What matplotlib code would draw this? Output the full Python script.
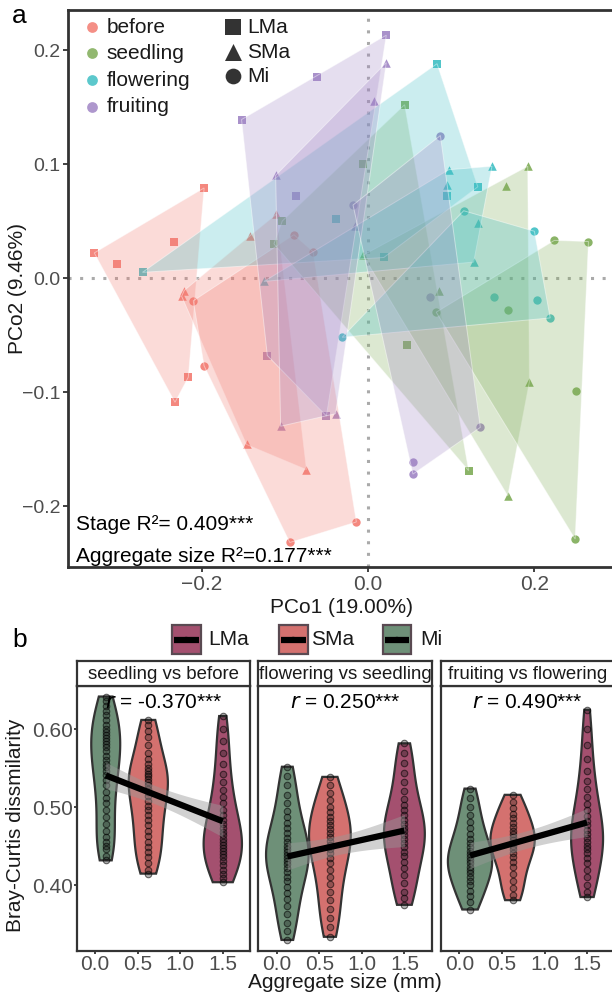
import numpy as np
import matplotlib
matplotlib.use('Agg')
import matplotlib.pyplot as plt
from matplotlib.patches import Polygon, Rectangle

plt.rcParams['font.family'] = ['Liberation Sans', 'DejaVu Sans']

# ---------------- Panel a data (PCoA) ----------------
stage_names = ['before', 'seedling', 'flowering', 'fruiting']
size_names = ['LMa', 'SMa', 'Mi']
stage_colors = ['#F37B71', '#7FAC57', '#3FBFC4', '#A085C5']

pt_stage = (['before'] * 18 + ['seedling'] * 18 + ['flowering'] * 18 + ['fruiting'] * 18)
pt_size = (['LMa'] * 6 + ['SMa'] * 6 + ['Mi'] * 6) * 4
pt_pco1 = [
    # before
    -0.329, -0.302, -0.233, -0.197, -0.216, -0.232,
    -0.110, -0.142, -0.221, -0.224, -0.146, -0.074,
    -0.089, -0.066, -0.210, -0.197, -0.094, -0.014,
    # seedling
    -0.006, 0.044, -0.103, -0.113, 0.047, 0.121,
    0.192, 0.166, -0.006, 0.085, 0.194, 0.168,
    0.224, 0.265, 0.082, 0.168, 0.250, 0.249,
    # flowering
    0.083, 0.132, 0.095, -0.271, -0.038, 0.019,
    0.097, 0.149, 0.095, 0.132, 0.127, -0.125,
    0.115, 0.200, 0.151, 0.203, 0.219, -0.031,
    # fruiting
    -0.152, -0.061, 0.022, -0.086, -0.121, -0.050,
    0.022, 0.007, -0.111, -0.016, -0.105, -0.039,
    0.087, -0.018, 0.074, 0.135, 0.054, 0.054,
]
pt_pco2 = [
    # before
    0.022, 0.012, 0.032, 0.079, -0.087, -0.109,
    0.056, 0.037, -0.011, -0.016, -0.146, -0.168,
    0.038, 0.023, -0.020, -0.077, -0.232, -0.214,
    # seedling
    0.100, 0.152, 0.050, 0.030, -0.059, -0.169,
    0.098, 0.081, 0.020, -0.011, -0.091, -0.191,
    0.033, 0.032, -0.030, -0.028, -0.099, -0.229,
    # flowering
    0.188, 0.080, 0.072, 0.005, 0.052, 0.018,
    0.095, 0.098, 0.082, 0.048, 0.014, -0.003,
    0.059, 0.041, -0.017, -0.019, -0.035, -0.052,
    # fruiting
    0.139, 0.176, 0.213, 0.072, -0.068, -0.121,
    0.189, 0.155, 0.090, 0.046, -0.130, -0.119,
    0.125, 0.064, -0.017, -0.131, -0.161, -0.172,
]
pco1_label = 'PCo1 (19.00%)'
pco2_label = 'PCo2 (9.46%)'
stat_lines = ['Stage R\u00b2= 0.409***', 'Aggregate size R\u00b2=0.177***']

# ---------------- Panel b data (Bray-Curtis) ----------------
facet_titles = ['seedling vs before', 'flowering vs seedling', 'fruiting vs flowering']
r_labels = ['-0.370***', '0.250***', '0.490***']
size_x = [0.125, 0.625, 1.5]          # Mi, SMa, LMa aggregate size (mm)
violin_sizes = ['Mi', 'SMa', 'LMa']

f1_Mi = [0.642, 0.636, 0.630, 0.624, 0.618, 0.612, 0.606, 0.601, 0.597, 0.593, 0.589, 0.585,
         0.581, 0.577, 0.572, 0.566, 0.561, 0.556, 0.552, 0.547, 0.541, 0.535, 0.528, 0.520,
         0.512, 0.505, 0.497, 0.488, 0.478, 0.470, 0.462, 0.455, 0.450, 0.446, 0.438, 0.432]
f1_SMa = [0.612, 0.605, 0.598, 0.590, 0.580, 0.570, 0.562, 0.556, 0.551, 0.547, 0.543, 0.540,
          0.536, 0.532, 0.528, 0.524, 0.519, 0.514, 0.508, 0.502, 0.496, 0.490, 0.484, 0.477,
          0.470, 0.463, 0.456, 0.449, 0.443, 0.436, 0.428, 0.420, 0.415]
f1_LMa = [0.617, 0.600, 0.585, 0.570, 0.556, 0.543, 0.532, 0.522, 0.513, 0.505, 0.497, 0.490,
          0.484, 0.478, 0.473, 0.468, 0.464, 0.460, 0.456, 0.452, 0.448, 0.444, 0.440, 0.436,
          0.431, 0.426, 0.420, 0.414, 0.409, 0.404]
f2_Mi = [0.552, 0.540, 0.528, 0.516, 0.505, 0.495, 0.487, 0.480, 0.473, 0.467, 0.461, 0.456,
         0.451, 0.447, 0.443, 0.439, 0.435, 0.431, 0.427, 0.422, 0.417, 0.411, 0.405, 0.398,
         0.390, 0.382, 0.373, 0.363, 0.352, 0.342, 0.330]
f2_SMa = [0.539, 0.528, 0.518, 0.509, 0.501, 0.494, 0.488, 0.482, 0.477, 0.472, 0.467, 0.462,
          0.457, 0.452, 0.447, 0.441, 0.435, 0.428, 0.420, 0.411, 0.402, 0.392, 0.381, 0.370,
          0.358, 0.346, 0.334]
f2_LMa = [0.582, 0.570, 0.557, 0.544, 0.532, 0.521, 0.511, 0.503, 0.496, 0.490, 0.484, 0.479,
          0.474, 0.469, 0.464, 0.459, 0.454, 0.449, 0.443, 0.437, 0.430, 0.422, 0.413, 0.403,
          0.392, 0.384, 0.375]
f3_Mi = [0.524, 0.512, 0.500, 0.490, 0.481, 0.473, 0.466, 0.460, 0.454, 0.449, 0.444, 0.440,
         0.436, 0.432, 0.428, 0.424, 0.420, 0.416, 0.411, 0.406, 0.400, 0.393, 0.386, 0.378, 0.369]
f3_SMa = [0.516, 0.507, 0.499, 0.492, 0.486, 0.480, 0.475, 0.470, 0.466, 0.462, 0.458, 0.454,
          0.450, 0.446, 0.441, 0.436, 0.430, 0.423, 0.415, 0.406, 0.396, 0.388, 0.381]
f3_LMa = [0.625, 0.600, 0.580, 0.562, 0.547, 0.534, 0.523, 0.513, 0.504, 0.496, 0.489, 0.483,
          0.477, 0.471, 0.466, 0.461, 0.456, 0.451, 0.446, 0.441, 0.435, 0.428, 0.420, 0.411,
          0.401, 0.392, 0.385]
facet_data = [[f1_Mi, f1_SMa, f1_LMa], [f2_Mi, f2_SMa, f2_LMa], [f3_Mi, f3_SMa, f3_LMa]]

# ---------------- styles ----------------
violin_colors = {'Mi': '#6E9078', 'SMa': '#D4716F', 'LMa': '#A4506F'}
violin_widths = [[0.34, 0.46, 0.45], [0.50, 0.49, 0.48], [0.52, 0.52, 0.375]]
markers = {'LMa': 's', 'SMa': '^', 'Mi': 'o'}
msizes = {'LMa': 26, 'SMa': 38, 'Mi': 36}
DARK = '#333333'
TICKC = '#4D4D4D'
FS = 15

W, H = 612, 992
fig = plt.figure(figsize=(W / 100, H / 100), dpi=100)


def fx(px):
    return px / W


def fy(py):
    return 1 - py / H


def convex_hull(points):
    pts = sorted(set(points))
    if len(pts) <= 2:
        return pts

    def cross(o, a, b):
        return (a[0] - o[0]) * (b[1] - o[1]) - (a[1] - o[1]) * (b[0] - o[0])
    lower, upper = [], []
    for p in pts:
        while len(lower) >= 2 and cross(lower[-2], lower[-1], p) <= 0:
            lower.pop()
        lower.append(p)
    for p in reversed(pts):
        while len(upper) >= 2 and cross(upper[-2], upper[-1], p) <= 0:
            upper.pop()
        upper.append(p)
    return lower[:-1] + upper[:-1]


# ================= Panel a =================
axa = fig.add_axes([fx(68), fy(567), fx(615) - fx(68), fy(10) - fy(567)])
axa.set_xlim(-0.3606, 0.2969)
axa.set_ylim(-0.2535, 0.2351)
axa.axvline(0, color='#AAAAAA', lw=2.2, ls=(0, (1, 2.8)), dash_capstyle='butt', zorder=0)
axa.axhline(0, color='#AAAAAA', lw=2.2, ls=(0, (1, 2.8)), dash_capstyle='butt', zorder=0)

x_arr = np.array(pt_pco1)
y_arr = np.array(pt_pco2)
st_arr = np.array(pt_stage)
sz_arr = np.array(pt_size)
for si, st in enumerate(stage_names):
    for sz in size_names:
        m = (st_arr == st) & (sz_arr == sz)
        axa.scatter(x_arr[m], y_arr[m], s=msizes[sz], marker=markers[sz],
                    color=stage_colors[si], alpha=0.9, linewidths=0, zorder=2)
for si, st in enumerate(stage_names):
    for sz in size_names:
        m = (st_arr == st) & (sz_arr == sz)
        hull = convex_hull(list(zip(x_arr[m], y_arr[m])))
        axa.add_patch(Polygon(hull, closed=True, facecolor=stage_colors[si], alpha=0.27,
                              edgecolor='none', zorder=3))
        axa.add_patch(Polygon(hull, closed=True, facecolor='none',
                              edgecolor=(1, 1, 1, 0.45), lw=0.7, zorder=3))

axa.set_xticks([-0.2, 0.0, 0.2])
axa.set_yticks([-0.2, -0.1, 0.0, 0.1, 0.2])
axa.set_xticklabels(['\u22120.2', '0.0', '0.2'])
axa.set_yticklabels(['\u22120.2', '\u22120.1', '0.0', '0.1', '0.2'])
axa.tick_params(colors=DARK, labelcolor=TICKC, labelsize=FS, length=3.5, width=1.3, pad=2)
axa.tick_params(axis='y', labelsize=14)
for sp in axa.spines.values():
    sp.set_linewidth(2.0)
    sp.set_color(DARK)
axa.set_xlabel(pco1_label, fontsize=FS, color='#1a1a1a', labelpad=3)
fig.text(fx(18), fy(288), pco2_label, rotation=90, ha='center', va='center', fontsize=FS,
         color='#1a1a1a')

# ================= Panel b =================
facet_left = [76.7, 258.3, 441.0]
facet_w = 173.5
panel_top, panel_bot, strip_top = 686, 950.7, 660.7
for fi in range(3):
    ax = fig.add_axes([fx(facet_left[fi]), fy(panel_bot), fx(facet_w), fy(panel_top) - fy(panel_bot)])
    ax.set_xlim(-0.216, 1.822)
    ax.set_ylim(0.3162, 0.6555)
    allx, ally = [], []
    for vi, sz in enumerate(violin_sizes):
        vals = np.array(facet_data[fi][vi])
        n = len(vals)
        sd = vals.std(ddof=1)
        iqr = np.subtract(*np.percentile(vals, [75, 25]))
        bw = 0.9 * min(sd, iqr / 1.34) * n ** -0.2
        grid = np.linspace(vals.min(), vals.max(), 200)
        dens = np.exp(-0.5 * ((grid[:, None] - vals[None, :]) / bw) ** 2).sum(1)
        hw = violin_widths[fi][vi] / 2 * dens / dens.max()
        pos = size_x[vi]
        xs = np.concatenate([pos - hw, (pos + hw)[::-1]])
        ys = np.concatenate([grid, grid[::-1]])
        ax.fill(xs, ys, facecolor=violin_colors[sz], edgecolor=DARK, lw=1.6, zorder=2)
        ax.scatter(np.full(n, pos), vals, s=22, facecolor=(0.1, 0.1, 0.1, 0.35),
                   edgecolor=(0, 0, 0, 0.55), linewidths=0.8, zorder=3)
        allx += [pos] * n
        ally += list(vals)
    allx = np.array(allx)
    ally = np.array(ally)
    b1, b0 = np.polyfit(allx, ally, 1)
    xx = np.linspace(size_x[0], size_x[2], 50)
    yy = b0 + b1 * xx
    resid = ally - (b0 + b1 * allx)
    s = np.sqrt((resid ** 2).sum() / (len(ally) - 2))
    sxx = ((allx - allx.mean()) ** 2).sum()
    se = s * np.sqrt(1 / len(ally) + (xx - allx.mean()) ** 2 / sxx)
    ax.fill_between(xx, yy - 1.97 * se, yy + 1.97 * se, color='#999999', alpha=0.45,
                    lw=0, zorder=4)
    ax.plot(xx, yy, color='black', lw=4.5, zorder=5, solid_capstyle='butt')
    ax.text(0.5, 0.975, r'$\it{r}$ = ' + r_labels[fi], transform=ax.transAxes, ha='center',
            va='top', fontsize=FS, color='black', zorder=6)
    ax.set_xticks([0.0, 0.5, 1.0, 1.5])
    ax.set_xticklabels(['0.0', '0.5', '1.0', '1.5'])
    ax.set_yticks([0.4, 0.5, 0.6])
    if fi == 0:
        ax.set_yticklabels(['0.40', '0.50', '0.60'])
    else:
        ax.tick_params(axis='y', left=False, labelleft=False)
    ax.tick_params(colors=DARK, labelcolor=TICKC, labelsize=FS, length=2.5, width=1.3, pad=0.5)
    for sp in ax.spines.values():
        sp.set_linewidth(1.6)
        sp.set_color(DARK)
    # strip
    sax = fig.add_axes([fx(facet_left[fi]), fy(panel_top), fx(facet_w), fy(strip_top) - fy(panel_top)])
    sax.set_xticks([])
    sax.set_yticks([])
    for sp in sax.spines.values():
        sp.set_linewidth(1.6)
        sp.set_color(DARK)
    sax.text(0.5, 0.45, facet_titles[fi], ha='center', va='center', fontsize=13.4,
             color='#1a1a1a', transform=sax.transAxes)

fig.text(fx(16), fy(825), 'Bray-Curtis dissmilarity', rotation=90, ha='center', va='center',
         fontsize=FS, color='#1a1a1a')
fig.text(fx(345), fy(982), 'Aggregate size (mm)', ha='center', va='center', fontsize=FS,
         color='#1a1a1a')

# ================= overlay: legends & panel letters =================
ov = fig.add_axes([0, 0, 1, 1], zorder=10)
ov.set_xlim(0, W)
ov.set_ylim(H, 0)
ov.axis('off')
ov.patch.set_alpha(0)

ov.text(12, 16, 'a', fontsize=19, ha='left', va='center', color='black')
ov.text(12, 640, 'b', fontsize=19, ha='left', va='center', color='black')

leg_y = [27.3, 53.3, 80.0, 107.0]
for si, st in enumerate(stage_names):
    ov.scatter([92.3], [leg_y[si]], s=60, color=stage_colors[si], alpha=0.85, linewidths=0)
    ov.text(106.7, leg_y[si], st, fontsize=FS, va='center', ha='left', color='#1a1a1a')
shape_y = [27.3, 52.0, 76.0]
shape_s = {'LMa': 118, 'SMa': 150, 'Mi': 128}
for k, sz in enumerate(size_names):
    ov.scatter([232.5], [shape_y[k]], s=shape_s[sz], marker=markers[sz], color=DARK, linewidths=0)
    ov.text(247.3, shape_y[k], sz, fontsize=FS, va='center', ha='left', color='#1a1a1a')

ov.text(76, 524, stat_lines[0], fontsize=FS, va='center', ha='left', color='black')
ov.text(76, 556.5, stat_lines[1], fontsize=FS, va='center', ha='left', color='black')

key_x = [172, 279, 382.7]
txt_x = [208, 311, 420]
key_sizes = ['LMa', 'SMa', 'Mi']
for k, sz in enumerate(key_sizes):
    ov.add_patch(Rectangle((key_x[k], 625), 28.5, 29, facecolor=violin_colors[sz],
                           edgecolor='#5A4A52', lw=1.6))
    ov.plot([key_x[k] + 2, key_x[k] + 26.5], [639.5, 639.5], color='black', lw=4.5,
            solid_capstyle='butt')
    ov.scatter([key_x[k] + 14.25], [639.5], s=18, facecolor=(0.1, 0.1, 0.1, 0.5),
               edgecolor='none')
    ov.text(txt_x[k], 639.5, sz, fontsize=FS, va='center', ha='left', color='#1a1a1a')

fig.savefig('out.png', dpi=100)
